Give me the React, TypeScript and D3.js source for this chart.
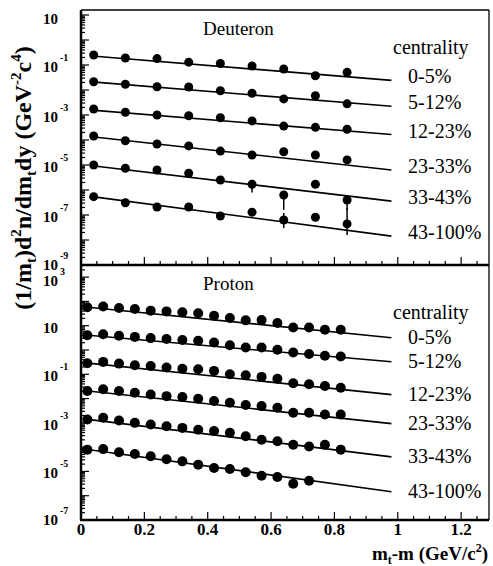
import React from 'react';
import * as d3 from 'd3';

// centrality classes, same for both panels
const centralities = ['0-5%', '5-12%', '12-23%', '23-33%', '33-43%', '43-100%'];

// deuteron spectra
const deuteronX = [0.04, 0.14, 0.24, 0.34, 0.44, 0.54, 0.64, 0.74, 0.84];
const deuteronY = [
  [0.25, 0.19, 0.18, 0.13, 0.115, 0.091, 0.069, 0.037, 0.051],
  [0.0214, 0.017, 0.0135, 0.0132, 0.0093, 0.0074, 0.0044, 0.0059, 0.0028],
  [1.74e-3, 1.29e-3, 1.0e-3, 9.3e-4, 7.8e-4, 5.8e-4, 3.6e-4, 3.2e-4, 2.7e-4],
  [1.45e-4, 9.3e-5, 6.9e-5, 5.8e-5, 3.6e-5, 2.5e-5, 3.4e-5, 2.5e-5, 1.6e-5],
  [1.0e-5, 7.4e-6, 6.3e-6, 4.7e-6, 2.5e-6, 1.7e-6, 6.3e-7, 1.7e-6, 4.0e-7],
  [5.4e-7, 3.1e-7, 2.1e-7, 2.1e-7, 9.1e-8, 1.3e-7, 6.3e-8, 8.1e-8, 4.4e-8],
];
// error bars: series, point index, low, high
const deuteronErr = [
  { s: 4, i: 5, lo: 8e-7, hi: 2.6e-6 },
  { s: 4, i: 6, lo: 1.6e-7, hi: 8.5e-7 },
  { s: 4, i: 8, lo: 1.6e-7, hi: 6.3e-7 },
  { s: 5, i: 6, lo: 3.0e-8, hi: 1.2e-7 },
  { s: 5, i: 8, lo: 1.6e-8, hi: 1.9e-7 },
];
// exponential fits A*exp(-x/T)
const deuteronFitA = [0.25, 0.023, 1.7e-3, 1.5e-4, 1.05e-5, 6.2e-7];
const deuteronFitT = [0.42, 0.42, 0.42, 0.31, 0.29, 0.26];

// proton spectra
const protonX = [0.02, 0.07, 0.12, 0.17, 0.22, 0.27, 0.32, 0.37, 0.42, 0.47, 0.52, 0.57, 0.62, 0.67, 0.72, 0.77, 0.82];
const protonY = [
  [57.5, 61.7, 53.7, 49.0, 41.7, 38.9, 35.5, 32.4, 25.7, 20.9, 16.6, 17.0, 12.9, 8.5, 8.5, 6.8, 6.8],
  [4.07, 4.47, 3.89, 3.47, 3.09, 2.82, 2.57, 2.4, 2.04, 1.58, 1.26, 1.26, 1.02, 0.79, 0.68, 0.575, 0.537],
  [0.285, 0.324, 0.275, 0.234, 0.221, 0.19, 0.17, 0.162, 0.138, 0.1, 0.091, 0.078, 0.066, 0.043, 0.039, 0.033, 0.028],
  [0.0204, 0.024, 0.0204, 0.0174, 0.0148, 0.0126, 0.0115, 0.0098, 0.0079, 0.0068, 0.0054, 0.0049, 0.0042, 0.0026, 0.0026, 0.0022, 0.0022],
  [1.38e-3, 1.62e-3, 1.26e-3, 1.0e-3, 8.5e-4, 7.2e-4, 6.2e-4, 5.2e-4, 4.6e-4, 3.9e-4, 2.8e-4, 2.0e-4, 1.74e-4, 1.26e-4, 1.07e-4, 1.26e-4, 7.9e-5],
  [7.9e-5, 8.3e-5, 6.2e-5, 5.2e-5, 4.2e-5, 3.2e-5, 2.6e-5, 1.9e-5, 1.38e-5, 1.26e-5, 9.3e-6, 6.6e-6, 5.9e-6, 3.1e-6, 4.1e-6],
];
const protonFitA = [62, 4.3, 0.31, 0.022, 1.5e-3, 8.7e-5];
const protonFitT = [0.33, 0.38, 0.32, 0.31, 0.27, 0.24];

const xTicks = [0, 0.2, 0.4, 0.6, 0.8, 1, 1.2];
const deuteronExps = [1, -1, -3, -5, -7, -9];
const protonExps = [3, 1, -1, -3, -5, -7];

const W = 493, H = 566;
const LEFT = 81, RIGHT = 489;
const serif = 'Liberation Serif';

const x = d3.scaleLinear().domain([0, 1.288]).range([LEFT, RIGHT]);

function Panel(props: any) {
  const { name, xs, ys, fitA, fitT, fitFrom, errs, top, bottom, domain, exps, legendDy, titleDy, r } = props;
  const y = d3.scaleLog().domain(domain).range([bottom, top]);
  const line = d3.line<number>().x((v) => x(v[0])).y((v) => y(v[1]));
  const fitTo = 0.98;

  const lo = Math.floor(Math.log10(domain[0]));
  const hi = Math.ceil(Math.log10(domain[1]));
  const yt: { v: number; major: boolean }[] = [];
  for (let e = lo; e <= hi; e++) {
    for (let k = 1; k <= 9; k++) {
      const v = k * Math.pow(10, e);
      if (v >= domain[0] && v <= domain[1]) yt.push({ v, major: k === 1 });
    }
  }
  const xt = d3.range(0, 1.29, 0.05);
  const ly = (e: number) => {
    const p = y(Math.pow(10, e));
    if (p > bottom - 3) return p - 2;
    if (p < top + 15) return p + 2;
    return p;
  };

  return (
    <g>
      {/* frame */}
      <line x1={LEFT} x2={RIGHT} y1={top} y2={top} stroke="#000" strokeWidth={1.3} />
      <line x1={RIGHT} x2={RIGHT} y1={top} y2={bottom} stroke="#000" strokeWidth={1.3} />
      <line x1={LEFT} x2={LEFT} y1={top} y2={bottom} stroke="#000" strokeWidth={2.5} />
      <line x1={LEFT - 1} x2={RIGHT} y1={bottom} y2={bottom} stroke="#000" strokeWidth={2.5} />

      {yt.map((t, i) => (
        <line key={'y' + i} x1={LEFT} x2={LEFT + (t.major ? 8 : 4)} y1={y(t.v)} y2={y(t.v)} stroke="#000" strokeWidth={1.2} />
      ))}
      {xt.map((t, i) => {
        const major = Math.abs(t * 5 - Math.round(t * 5)) < 1e-6;
        return <line key={'x' + i} x1={x(t)} x2={x(t)} y1={bottom} y2={bottom - (major ? 8 : 4)} stroke="#000" strokeWidth={1.2} />;
      })}

      {exps.map((e: number) => (
        <g key={'l' + e} style={{ fontFamily: serif }} fontWeight="bold">
          <text x={58} y={ly(e) + 7} fontSize={15} textAnchor="end">10</text>
          {e !== 1 && (
            <text x={60} y={ly(e) - 4} fontSize={10}>{String(e)}</text>
          )}
        </g>
      ))}

      <text x={203} y={top + 25} style={{ fontFamily: serif }} fontSize={19}>{name}</text>

      {ys.map((row: number[], s: number) => {
        const f = (v: number) => fitA[s] * Math.exp(-v / fitT[s]);
        return (
          <g key={'s' + s}>
            <path d={line([[fitFrom, f(fitFrom)], [fitTo, f(fitTo)]] as any) || ''} fill="none" stroke="#000" strokeWidth={1.6} />
            {row.map((v, i) => (
              <circle key={i} cx={x(xs[i])} cy={y(v)} r={r} fill="#000" />
            ))}
          </g>
        );
      })}

      {errs.map((e: any, k: number) => (
        <line key={'e' + k} x1={x(xs[e.i])} x2={x(xs[e.i])} y1={y(e.lo)} y2={y(e.hi)} stroke="#000" strokeWidth={1.5} />
      ))}

      <g style={{ fontFamily: serif }} fontSize={20}>
        <text x={393} y={top + titleDy}>centrality</text>
        {centralities.map((c, s) => (
          <text key={c} x={408} y={y(fitA[s] * Math.exp(-fitTo / fitT[s])) + legendDy}>{c}</text>
        ))}
      </g>
    </g>
  );
}

export default function App() {
  return (
    <svg width={W} height={H} style={{ position: 'absolute', left: 0, top: 0, background: '#fff' }}>
      <Panel name="Deuteron" xs={deuteronX} ys={deuteronY} fitA={deuteronFitA} fitT={deuteronFitT}
        fitFrom={0.035} errs={deuteronErr} top={10} bottom={265} domain={[1e-9, Math.pow(10, 1.2)]}
        exps={deuteronExps} legendDy={3} titleDy={44} r={4.5} />
      <Panel name="Proton" xs={protonX} ys={protonY} fitA={protonFitA} fitT={protonFitT}
        fitFrom={0.015} errs={[]} top={265} bottom={520} domain={[1e-7, Math.pow(10, 3.5)]}
        exps={protonExps} legendDy={6} titleDy={54} r={5} />

      <g style={{ fontFamily: serif }} fontWeight="bold" fontSize={17} textAnchor="middle">
        {xTicks.map((t) => (
          <text key={t} x={x(t)} y={535}>{String(t)}</text>
        ))}
      </g>

      <text x={488} y={560} textAnchor="end" style={{ fontFamily: serif }} fontWeight="bold" fontSize={19}>
        m<tspan fontSize={12} dy={4}>t</tspan><tspan dy={-4}>-m (GeV/c</tspan><tspan fontSize={12} dy={-8}>2</tspan><tspan dy={8}>)</tspan>
      </text>

      <text transform="translate(31,178) rotate(-90)" textAnchor="middle" style={{ fontFamily: serif }} fontWeight="bold" fontSize={24}>
        (1/m<tspan fontSize={15} dy={5}>t</tspan><tspan dy={-5}>)d</tspan><tspan fontSize={15} dy={-10}>2</tspan><tspan dy={10}>n/dm</tspan><tspan fontSize={15} dy={5}>t</tspan><tspan dy={-5}>dy (GeV</tspan><tspan fontSize={15} dy={-10}>-2</tspan><tspan dy={10}>c</tspan><tspan fontSize={15} dy={-10}>4</tspan><tspan dy={10}>)</tspan>
      </text>
    </svg>
  );
}
